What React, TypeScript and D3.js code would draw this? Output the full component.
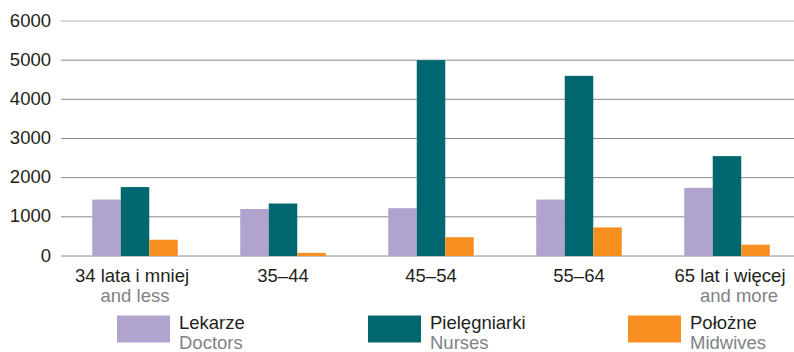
import React from "react";
import * as d3 from "d3";

const categories = ["34 lata i mniej", "35–44", "45–54", "55–64", "65 lat i więcej"];
const categoriesEn = ["and less", "", "", "", "and more"];
const seriesNames = ["Lekarze", "Pielęgniarki", "Położne"];
const seriesNamesEn = ["Doctors", "Nurses", "Midwives"];
const doctors = [1440, 1200, 1220, 1440, 1740];
const nurses = [1760, 1340, 5000, 4600, 2550];
const midwives = [415, 80, 480, 730, 290];
const yTicks = [0, 1000, 2000, 3000, 4000, 5000, 6000];

const colors = ["#b0a4cf", "#006770", "#f68f1f"];
const W = 794;
const H = 352;
const FONT = "'Liberation Sans', Arial, Helvetica, sans-serif";
const FS = 18.5;

export default function App() {
  const series = [doctors, nurses, midwives];
  const x0 = d3.scaleBand<string>().domain(categories).range([61, 801]).paddingInner(0).paddingOuter(0);
  const groupW = 85.5;
  const x1 = d3
    .scaleBand<number>()
    .domain([0, 1, 2])
    .range([-groupW / 2, groupW / 2])
    .padding(0);
  const y = d3.scaleLinear().domain([0, 6000]).range([256, 21]);

  const legendX = [117, 368, 628];
  const labelShift = [-3, 0, 0, 0, 3];
  const enShift = [0, 0, 0, 0, 12];

  return (
    <svg
      width={W}
      height={H}
      style={{ position: "absolute", left: 0, top: 0, background: "#fff" }}
      fontFamily={FONT}
    >
      {yTicks.map((t) => (
        <g key={t}>
          <line x1={61} x2={W} y1={y(t)} y2={y(t)} stroke={t === 6000 ? "#b3b3b3" : "#8a8a8a"} strokeWidth={1} />
          <text x={51} y={y(t) + 5.5} textAnchor="end" fontSize={FS} fill="#231f20">
            {t}
          </text>
        </g>
      ))}
      {categories.map((c, i) => {
        const cx = (x0(c) as number) + x0.bandwidth() / 2;
        return (
          <g key={c}>
            {series.map((s, j) => (
              <rect
                key={j}
                x={cx + (x1(j) as number)}
                y={y(s[i])}
                width={x1.bandwidth()}
                height={y(0) - y(s[i])}
                fill={colors[j]}
              />
            ))}
            <text x={cx + labelShift[i]} y={282} textAnchor="middle" fontSize={FS} fill="#231f20">
              {c}
            </text>
            {categoriesEn[i] && (
              <text x={cx + enShift[i]} y={301.5} textAnchor="middle" fontSize={FS} fill="#808285">
                {categoriesEn[i]}
              </text>
            )}
          </g>
        );
      })}
      {seriesNames.map((n, j) => (
        <g key={n}>
          <rect x={legendX[j]} y={315.5} width={53} height={27} fill={colors[j]} />
          <text x={legendX[j] + 62} y={328.5} fontSize={FS} fill="#231f20">
            {n}
          </text>
          <text x={legendX[j] + 62} y={348.5} fontSize={FS} fill="#808285">
            {seriesNamesEn[j]}
          </text>
        </g>
      ))}
    </svg>
  );
}
